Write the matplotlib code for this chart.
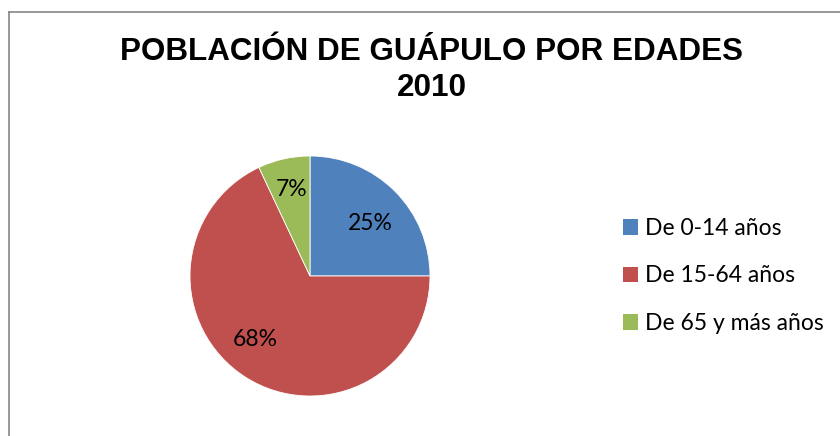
import matplotlib
matplotlib.use("Agg")
import matplotlib.pyplot as plt
from matplotlib.lines import Line2D
from matplotlib.patches import Patch

# data
categories = ["De 0-14 años", "De 15-64 años", "De 65 y más años"]
shares     = [25, 68, 7]
colors     = ["#4F81BD", "#C0504D", "#9BBB59"]
title      = "POBLACIÓN DE GUÁPULO POR EDADES\n2010"

W, H = 840, 436
fig = plt.figure(figsize=(W / 100, H / 100), dpi=100)
fig.patch.set_facecolor("white")

# chart frame (runs off the right/bottom of the image)
fig.add_artist(Line2D([8.5 / W, 8.5 / W], [0, 1 - 12.5 / H],
                      transform=fig.transFigure, color="#868686", lw=1.2))
fig.add_artist(Line2D([8.5 / W, 1], [1 - 12.5 / H, 1 - 12.5 / H],
                      transform=fig.transFigure, color="#868686", lw=1.2))

fig.text(432 / W, 1 - 70 / H, title, ha="center", va="center",
         fontsize=22.6, fontweight="bold", family="Liberation Sans",
         linespacing=1.28)

# pie: centre ~ (310, 276) px, radius ~ 120 px
cx, cy, r = 310, 276, 120
ax = fig.add_axes([(cx - r) / W, (H - cy - r) / H, 2 * r / W, 2 * r / H])
wedges, texts, autotexts = ax.pie(
    shares, colors=colors, startangle=90, counterclock=False,
    autopct="%d%%", pctdistance=0.7, radius=1,
    wedgeprops=dict(edgecolor="white", linewidth=0.6),
    textprops=dict(fontsize=16.5, family="Lato", color="black"))

# Excel-style label placement (label spots inside each slice)
label_pos = [(0.50, 0.44), (-0.46, -0.53), (-0.15, 0.72)]
for t, p in zip(autotexts, label_pos):
    t.set_position(p)

ax.set_xlim(-1, 1)
ax.set_ylim(-1, 1)
ax.set_aspect("equal")
ax.axis("off")

handles = [Patch(facecolor=c, edgecolor="none") for c in colors]
fig.legend(handles, categories, loc="center left",
           bbox_to_anchor=(623 / W, (H - 276) / H), frameon=False,
           prop=dict(family="Lato", size=16.5), borderpad=0, borderaxespad=0,
           handlelength=0.66, handleheight=0.66, handletextpad=0.3,
           labelspacing=1.15)

fig.savefig("out.png", dpi=100, facecolor="white")
